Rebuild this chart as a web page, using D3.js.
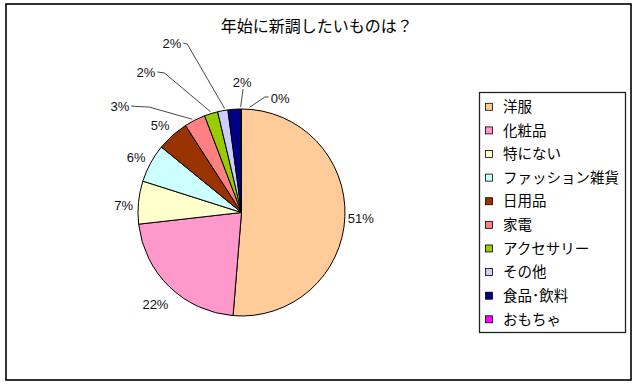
<!DOCTYPE html>
<html><head><meta charset="utf-8">
<script src="https://cdn.jsdelivr.net/npm/d3@7"></script>
<style>body{margin:0;background:#fff}</style>
</head><body>
<svg id="c" width="640" height="388"></svg>
<script>
const title = "年始に新調したいものは？";
const categories = ["洋服","化粧品","特にない","ファッション雑貨","日用品","家電","アクセサリー","その他","食品･飲料","おもちゃ"];
const values = [51.3,21.9,6.7,6.0,5.0,3.3,2.1,1.6,2.0,0.1];
const colors = ["#FFCC99","#FF99CC","#FFFFCC","#CCFFFF","#993300","#FF8080","#99CC00","#CCCCFF","#000080","#FF00FF"];

// label layout (radius from centre, angle shift from slice middle, leader style)
const labelRadius = [119.5,126,118,119,119.5,161.6,169.9,183.2,130.5,120.8];
const labelShift = [0.3,-1,-1.9,-0.7,-1.2,-22,-17.1,-11.9,4.2,18.8];
const leaderType = [null,null,null,null,null,"right","right","right","down","left"];
const leaderRun = [0,0,0,0,0,18,7,4,0,4];
const leaderEndShift = [0,0,0,0,0,-1,0,1.2,3.5,4.6];

const W=640,H=388;
const svg=d3.select("#c");
const cx=241.5, cy=212.5, r=103.5;
const jp='"Noto Sans CJK JP","Noto Sans",sans-serif';
const num='"Liberation Sans",Arial,sans-serif';

svg.append("rect").attr("x",6).attr("y",4).attr("width",625).attr("height",376)
  .attr("fill","#fff").attr("stroke","#000").attr("stroke-width",1.6);

svg.append("text").attr("x",316.7).attr("y",31.5).attr("text-anchor","middle")
  .attr("font-family",jp).attr("font-size",16).attr("fill","#000").text(title);

const pie=d3.pie().sort(null).value(d=>d).startAngle(0).endAngle(2*Math.PI);
const arcs=pie(values);
const arc=d3.arc().innerRadius(0).outerRadius(r);
const g=svg.append("g").attr("transform",`translate(${cx},${cy})`);
g.selectAll("path").data(arcs).enter().append("path")
  .attr("d",arc).attr("fill",(d,i)=>colors[i])
  .attr("stroke","#000").attr("stroke-width",1).attr("stroke-linejoin","round");

const pt=(a,R)=>[R*Math.sin(a),-R*Math.cos(a)];
const fmt=d3.format(".0f");
const rad=Math.PI/180;
arcs.forEach((d,i)=>{
  const mid=(d.startAngle+d.endAngle)/2;
  const a=mid+labelShift[i]*rad;
  const [x,y]=pt(a,labelRadius[i]);
  const t=g.append("text").attr("x",x).attr("y",y).attr("dy","0.36em")
    .attr("text-anchor","middle").attr("font-family",num).attr("font-size",13)
    .attr("fill","#111").text(fmt(d.value)+"%");
  const lt=leaderType[i];
  if(lt){
    const w=t.node().getComputedTextLength();
    const e=pt(mid+leaderEndShift[i]*rad,r+2);
    let pts;
    if(lt==="right"){const s=[x+w/2+2,y]; pts=[s,[s[0]+leaderRun[i],y+1],e];}
    else if(lt==="left"){const s=[x-w/2-2,y-1]; pts=[s,[s[0]-leaderRun[i],y-1],e];}
    else {const s=[x+1,y+7]; pts=[s,e];}
    g.append("path").attr("d",d3.line()(pts)).attr("fill","none")
      .attr("stroke","#333").attr("stroke-width",0.9);
  }
});

// legend
const lg=svg.append("g");
lg.append("rect").attr("x",479.5).attr("y",92.5).attr("width",146).attr("height",240)
  .attr("fill","#fff").attr("stroke","#222").attr("stroke-width",1.3);
const ly=d3.scalePoint().domain(categories).range([106.8,319.3]);
categories.forEach((c,i)=>{
  lg.append("rect").attr("x",485.5).attr("y",ly(c)-3.5).attr("width",7).attr("height",7)
    .attr("fill",colors[i]).attr("stroke","#000").attr("stroke-width",0.8);
  lg.append("text").attr("x",503).attr("y",ly(c)).attr("dy","0.36em")
    .attr("font-family",jp).attr("font-size",14.5).attr("fill","#000").text(c);
});
</script>
</body></html>
